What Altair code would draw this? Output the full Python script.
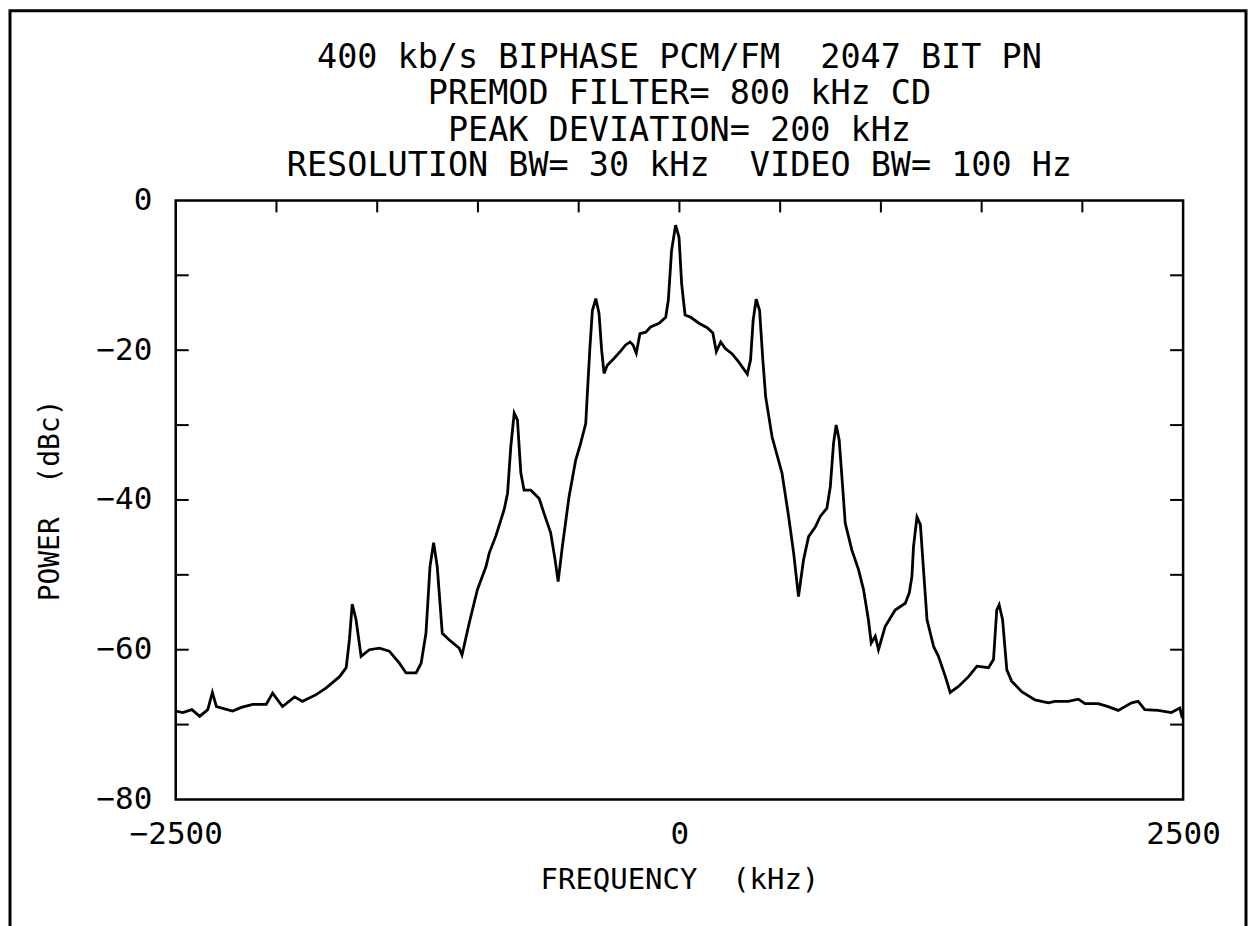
import altair as alt
import pandas as pd

freq = [-2500, -2465, -2420, -2381, -2341, -2318, -2298, -2218, -2174, -2118, -2051, -2019,
        -1970, -1910, -1871, -1803, -1753, -1687, -1654, -1638, -1624, -1605, -1580, -1539,
        -1489, -1440, -1390, -1357, -1307, -1282, -1258, -1238, -1220, -1202, -1177, -1142,
        -1093, -1079, -1043, -1003, -960, -944, -911, -870, -853, -837, -820, -804, -787,
        -771, -738, -696, -672, -639, -617, -602, -581, -548, -515, -490, -465, -457, -445,
        -432, -415, -399, -386, -374, -358, -325, -291, -267, -245, -230, -214, -196, -167,
        -143, -101, -68, -55, -39, -19, -2, 11, 28, 56, 97, 138, 166, 183, 205, 229, 262,
        295, 337, 353, 366, 381, 398, 414, 428, 460, 509, 542, 567, 591, 616, 641, 675,
        699, 732, 749, 765, 778, 793, 810, 823, 856, 889, 914, 938, 952, 972, 988, 1021,
        1071, 1121, 1141, 1154, 1162, 1179, 1196, 1212, 1229, 1262, 1286, 1320, 1344,
        1385, 1435, 1477, 1534, 1559, 1575, 1587, 1604, 1625, 1649, 1699, 1765, 1831,
        1864, 1930, 1980, 2013, 2079, 2128, 2178, 2244, 2277, 2310, 2376, 2442, 2484,
        2492, 2500]
power = [-68.2, -68.4, -68.0, -68.9, -68.0, -65.7, -67.6, -68.2, -67.7, -67.3, -67.3, -65.8,
         -67.6, -66.3, -66.9, -66.0, -65.1, -63.6, -62.4, -58.7, -53.9, -56.0, -60.9, -60.0,
         -59.8, -60.2, -61.8, -63.1, -63.1, -61.8, -57.8, -48.9, -45.7, -48.9, -57.8, -58.7,
         -59.8, -60.7, -56.4, -52.0, -48.9, -47.1, -44.8, -41.3, -39.1, -32.9, -28.4, -29.3,
         -36.4, -38.7, -38.7, -39.8, -41.8, -44.4, -48.0, -50.9, -46.2, -39.6, -34.7, -32.4,
         -29.8, -25.8, -20.0, -14.7, -13.1, -15.1, -20.0, -23.1, -22.0, -21.1, -20.1, -19.3,
         -18.9, -19.3, -20.4, -17.8, -17.6, -16.9, -16.4, -15.6, -13.3, -6.7, -3.3, -4.9,
         -11.1, -15.3, -15.6, -16.4, -17.0, -17.7, -20.2, -18.9, -19.8, -20.5, -21.6, -23.2,
         -21.3, -16.0, -13.2, -14.7, -21.3, -26.2, -31.6, -36.4, -42.2, -47.1, -52.9, -48.0,
         -44.9, -43.6, -42.2, -41.1, -38.2, -32.4, -30.0, -32.0, -38.2, -43.1, -46.7, -49.3,
         -52.0, -56.0, -59.1, -58.2, -60.0, -56.9, -54.7, -53.8, -52.4, -50.2, -46.2, -42.3,
         -43.3, -49.5, -56.0, -59.6, -60.9, -63.6, -65.7, -64.9, -63.6, -62.2, -62.4, -61.3,
         -54.7, -54.0, -56.0, -62.7, -64.2, -65.6, -66.7, -67.1, -66.9, -66.9, -66.6, -67.2,
         -67.2, -67.6, -68.1, -67.1, -66.9, -68.0, -68.1, -68.4, -67.8, -68.7, -68.2]

x_label_values = [-2500, 0, 2500]
y_label_values = [0, -20, -40, -60, -80]
x_tick_values = [-2000, -1500, -1000, -500, 0, 500, 1000, 1500, 2000]
y_tick_values = [-10, -20, -30, -40, -50, -60, -70]

title_lines = [
    "400 kb/s BIPHASE PCM/FM\u00a0\u00a02047 BIT PN",
    "PREMOD FILTER= 800 kHz CD",
    "PEAK DEVIATION= 200 kHz",
    "RESOLUTION BW= 30 kHz\u00a0\u00a0VIDEO BW= 100 Hz",
]
x_title = "FREQUENCY\u00a0\u00a0(kHz)"
y_title = "POWER\u00a0\u00a0(dBc)"

FONT = "DejaVu Sans Mono"
FS = 31
W, H = 1009, 600

df = pd.DataFrame({"f": freq, "p": power})
xt = pd.DataFrame({"t": x_tick_values})
yt = pd.DataFrame({"t": y_tick_values})

xscale = alt.Scale(domain=[-2500, 2500], nice=False, zero=False)
yscale = alt.Scale(domain=[-80, 0], nice=False, zero=False)

line = alt.Chart(df).mark_line(color="black", strokeWidth=2.8).encode(
    x=alt.X("f:Q", scale=xscale,
            axis=alt.Axis(values=x_label_values, format="d", title=x_title, grid=False,
                          ticks=False, domain=False, labelFlush=False, labelFontSize=FS,
                          labelFont=FONT, labelColor="black", labelPadding=20, tickSize=0,
                          titleFont=FONT, titleFontSize=29, titleFontWeight="normal",
                          titleColor="black", titlePadding=16)),
    y=alt.Y("p:Q", scale=yscale,
            axis=alt.Axis(values=y_label_values, format="d", title=y_title, grid=False,
                          ticks=False, domain=False, labelFlush=False, labelFontSize=FS,
                          labelFont=FONT, labelColor="black", labelPadding=24, tickSize=0,
                          titleFont=FONT, titleFontSize=28, titleFontWeight="normal",
                          titleColor="black", titlePadding=31)),
)

top_ticks = alt.Chart(xt).mark_rule(color="black", strokeWidth=2).encode(
    x=alt.X("t:Q", scale=xscale), y=alt.value(0), y2=alt.value(12))
left_ticks = alt.Chart(yt).mark_rule(color="black", strokeWidth=2).encode(
    y=alt.Y("t:Q", scale=yscale), x=alt.value(0), x2=alt.value(13))
right_ticks = alt.Chart(yt).mark_rule(color="black", strokeWidth=2).encode(
    y=alt.Y("t:Q", scale=yscale), x=alt.value(W), x2=alt.value(W - 13))

frame = alt.Chart(pd.DataFrame({"a": [0]})).mark_rect(
    fill=None, stroke="black", strokeWidth=3).encode(
    x=alt.value(-166), x2=alt.value(1072), y=alt.value(-190), y2=alt.value(760))

title_y = [57, 93, 130, 166]
title_layers = []
for txt, ty in zip(title_lines, title_y):
    title_layers.append(
        alt.Chart(pd.DataFrame({"t": [txt]})).mark_text(
            font=FONT, fontSize=33.5, color="black", align="center", baseline="middle"
        ).encode(text="t:N", x=alt.value(W / 2), y=alt.value(ty - 200))
    )

chart = alt.layer(frame, line, top_ticks, left_ticks, right_ticks, *title_layers).properties(
    width=W, height=H,
    autosize=alt.AutoSizeParams(type="none"),
    padding={"left": 168, "top": 192, "right": 66, "bottom": 130},
    background="white",
).configure_view(stroke="black", strokeWidth=2.5)

chart.save("out.html", embed_options={"renderer": "svg", "actions": False})
